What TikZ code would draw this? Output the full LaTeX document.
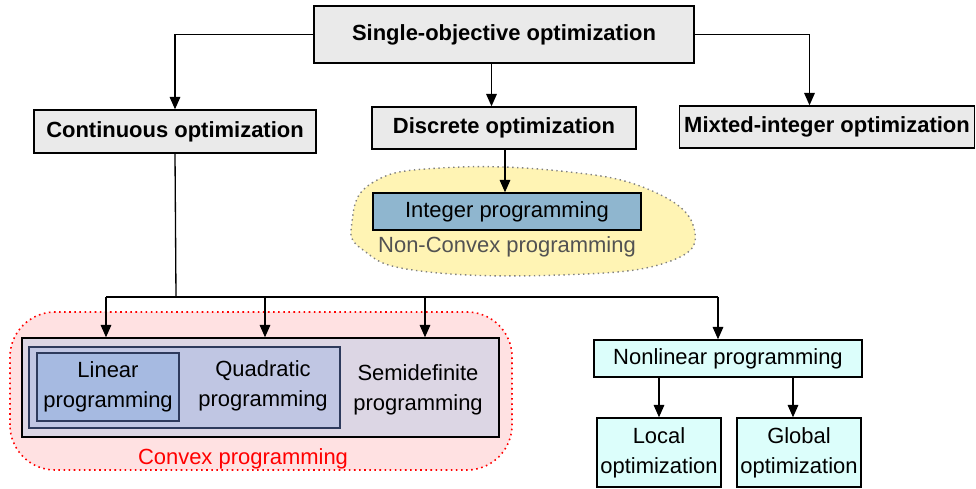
\documentclass[tikz,border=0pt]{standalone}
\usepackage{fontspec}
\setmainfont{Liberation Sans}
\usepackage{tikz}
\usetikzlibrary{positioning,arrows.meta,calc}
\usepackage{xcolor}
\definecolor{boxgray}{RGB}{234,234,234}
\definecolor{intblue}{RGB}{143,182,207}
\definecolor{ncyellow}{RGB}{255,244,180}
\definecolor{cvxpink}{RGB}{255,225,226}
\definecolor{cvxlilac}{RGB}{220,214,228}
\definecolor{quadblue}{RGB}{192,198,227}
\definecolor{linblue}{RGB}{166,186,225}
\definecolor{navyline}{RGB}{45,58,92}
\definecolor{nlcyan}{RGB}{220,254,251}

\tikzset{
  txt/.style={font=\fontsize{12.5}{17}\selectfont,align=center,inner sep=0pt},
  topbox/.style={draw=black,line width=0.8pt,fill=boxgray,txt,font=\fontsize{12.5}{17}\selectfont\bfseries},
  nlbox/.style={draw=black,line width=0.8pt,fill=nlcyan,txt},
  arr/.style={draw=black,line width=0.75pt,-{Triangle[length=7pt,width=6pt]}},
  link/.style={draw=black,line width=0.75pt}
}

\begin{document}
\begin{tikzpicture}
  \useasboundingbox (0,0) rectangle (19.52,9.76);

  \draw[gray,dotted,line width=0.8pt,fill=ncyellow] plot[smooth cycle,tension=0.75] coordinates
    {(7.04,5.32) (7.44,6.10) (8.8,6.4) (11.2,6.34) (13.0,5.96) (13.88,5.2) (13.36,4.52) (11.2,4.26) (8.4,4.34) (7.26,4.76)};
  \draw[red,dotted,line width=0.9pt,fill=cvxpink,rounded corners=0.9cm] (0.2,0.36) rectangle (10.24,3.52);

  \node[topbox,minimum width=7.6cm,minimum height=1.14cm] (single) at (10.08,9.07) {Single-objective optimization};
  \node[topbox,minimum width=5.64cm,minimum height=0.86cm] (cont) at (3.5,7.13) {Continuous optimization};
  \node[topbox,minimum width=5.28cm,minimum height=0.84cm] (disc) at (10.08,7.2) {Discrete optimization};
  \node[topbox,minimum width=5.9cm,minimum height=0.84cm] (mixt) at (16.54,7.22) {Mixted-integer optimization};

  \node[draw=black,line width=0.8pt,fill=intblue,txt,minimum width=5.36cm,minimum height=0.74cm] (intprog) at (10.14,5.53) {Integer programming};
  \node[txt,text=black!68] (noncvx) at (10.14,4.82) {Non-Convex programming};

  \node[draw=black,line width=0.8pt,fill=cvxlilac,minimum width=9.54cm,minimum height=1.98cm] (cvx) at (5.21,2.01) {};
  \node[draw=navyline,line width=0.8pt,fill=quadblue,minimum width=6.22cm,minimum height=1.62cm] (quad) at (3.69,2.01) {};
  \node[draw=navyline,line width=0.8pt,fill=linblue,minimum width=2.84cm,minimum height=1.36cm] (lin) at (2.16,2.02) {};
  \node[txt] (lintxt) at (2.16,2.02) {Linear\\programming};
  \node[txt] (quadtxt) at (5.26,2.04) {Quadratic\\programming};
  \node[txt] (semitxt) at (8.36,1.96) {Semidefinite\\programming};
  \node[txt,text=red] (cvxlabel) at (4.86,0.58) {Convex programming};

  \node[nlbox,minimum width=5.36cm,minimum height=0.74cm] (nonlin) at (14.56,2.59) {Nonlinear programming};
  \node[nlbox,minimum width=2.48cm,minimum height=1.38cm] (local) at (13.18,0.71) {Local\\optimization};
  \node[nlbox,minimum width=2.48cm,minimum height=1.38cm] (global) at (15.98,0.71) {Global\\optimization};

  \draw[arr] (single.west) -| (cont.north);
  \draw[arr] ([xshift=-0.25cm]single.south) -- ([xshift=-0.25cm]disc.north);
  \draw[arr] (single.east) -| ([xshift=-0.35cm]mixt.north);
  \draw[arr] ([xshift=0.02cm]disc.south) -- ([xshift=0.02cm]disc.south |- intprog.north);

  \coordinate (split) at (3.52,3.82);
  \coordinate (b1) at (2.12,3.82);
  \coordinate (b2) at (5.3,3.82);
  \coordinate (b3) at (8.5,3.82);
  \coordinate (b4) at (14.36,3.82);
  \draw[link] (cont.south) -- (split);
  \draw[link] (b1) -- (b4);
  \draw[arr] (b1) -- (b1 |- cvx.north);
  \draw[arr] (b2) -- (b2 |- cvx.north);
  \draw[arr] (b3) -- (b3 |- cvx.north);
  \draw[arr] (b4) -- (b4 |- nonlin.north);

  \draw[arr] (local.north |- nonlin.south) -- (local.north);
  \draw[arr] ([xshift=-0.12cm]global.north |- nonlin.south) -- ([xshift=-0.12cm]global.north);
\end{tikzpicture}
\end{document}
